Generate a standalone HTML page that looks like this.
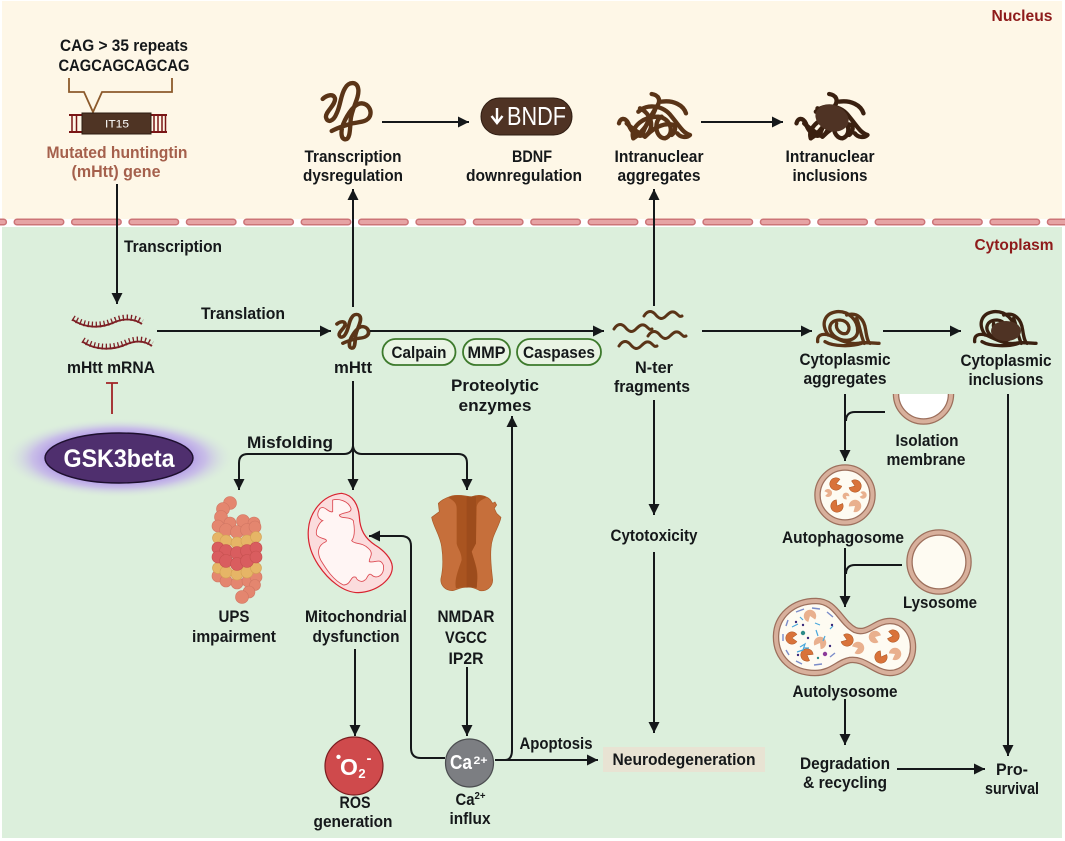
<!DOCTYPE html>
<html><head><meta charset="utf-8">
<style>
html,body{margin:0;padding:0;background:#fff;width:1065px;height:841px;overflow:hidden}
svg{display:block}
text{font-family:"Liberation Sans",sans-serif;font-weight:700;font-size:16.500px;fill:#15181a;text-anchor:middle}
.l{fill:none;stroke:#15181a;stroke-width:2}
.a{fill:none;stroke:#15181a;stroke-width:2;marker-end:url(#ah)}
.sq{fill:none;stroke:#5a3417;stroke-width:13;stroke-linecap:round;stroke-linejoin:round}
.sq2{fill:none;stroke:#3a2010;stroke-width:13;stroke-linecap:round;stroke-linejoin:round}
.w{fill:none;stroke:#5a3417;stroke-width:3;stroke-linecap:round}
.pill{fill:#e9f4e4;stroke:#3d7a2c;stroke-width:1.800}
</style></head><body>
<svg width="1065" height="841" viewBox="0 0 1065 841" xmlns="http://www.w3.org/2000/svg">
<defs>
<marker id="ah" markerUnits="userSpaceOnUse" markerWidth="12" markerHeight="11" refX="11" refY="5.500" orient="auto"><path d="M0 0L11 5.500L0 11Z" fill="#15181a"/></marker>
<radialGradient id="glow"><stop offset="0.55" stop-color="#a98be6"/><stop offset="0.75" stop-color="#c4b3ea" stop-opacity=".8"/><stop offset="1" stop-color="#dcefdc" stop-opacity="0"/></radialGradient>
<path id="sqg" d="M68 117C80 105 100 100 105 115C108 135 75 155 78 172C82 190 100 185 110 160C122 135 122 105 135 85C145 65 172 62 175 88C178 115 155 145 152 180C150 210 150 240 135 238C120 235 122 205 135 180C148 155 165 130 185 130C205 132 216 150 210 168C200 190 170 185 150 192C130 198 110 205 95 213"/>
<g id="tan">
<path d="M155 42C175 45 185 60 170 80C150 110 120 170 130 165C110 175 90 150 85 130C75 110 60 115 57 130"/>
<path d="M115 95C140 70 190 75 215 110C240 140 250 160 270 165C260 175 240 172 232 160"/>
<path d="M185 65C220 60 250 75 258 100"/>
<path d="M100 175C90 150 120 110 175 110C215 115 225 165 195 175C165 175 160 120 185 110"/>
<path d="M80 130C100 150 120 160 135 170C170 140 150 100 120 85"/>
<path d="M135 170C160 145 190 125 222 135C230 145 222 160 215 165"/>
<path d="M100 175C125 160 150 125 165 90"/>
</g>
<g id="cag">
<path d="M38 125C36 105 50 100 72 105C95 115 130 135 160 130C180 125 200 130 222 130"/>
<path d="M70 105C45 70 60 40 95 35C130 32 160 60 158 95C155 125 110 130 85 105C65 85 75 60 105 60C130 62 140 85 125 100C110 105 90 90 95 70"/>
<path d="M125 45C160 35 178 60 182 90C185 110 188 125 195 130"/>
<path d="M155 55C165 80 168 110 178 130"/>
<path d="M60 125C85 140 140 140 170 130"/>
</g>
<path id="wv" d="M0 5C3 0 7 -1 11 3C15 8 18 9 22 5C26 1 29 -1 33 3C35 5 36 6 38 5"/>
<path id="pac" d="M0 0L5 -3.600A6.200 6.200 0 1 0 5 3.600Z"/>
</defs>

<!-- backgrounds -->
<rect x="2" y="1" width="1060" height="218" fill="#fef7e7"/>
<rect x="2" y="227" width="1060" height="611" fill="#dcefdc"/>
<line x1="-40.400" y1="222" x2="1065" y2="222" stroke="#cc7477" stroke-width="7" stroke-dasharray="44 13.400" stroke-linecap="round"/>
<line x1="-40.400" y1="222" x2="1065" y2="222" stroke="#e6a3a4" stroke-width="4" stroke-dasharray="44 13.400" stroke-linecap="round"/>

<text x="1022" y="21" textLength="61" lengthAdjust="spacingAndGlyphs" style="fill:#8e1b1b;font-size:15.500px">Nucleus</text>
<text x="1014" y="250" textLength="79" lengthAdjust="spacingAndGlyphs" style="fill:#8e1b1b;font-size:15.500px">Cytoplasm</text>

<!-- gene -->
<text x="124" y="51" textLength="128" lengthAdjust="spacingAndGlyphs">CAG &gt; 35 repeats</text>
<text x="124" y="71" textLength="131" lengthAdjust="spacingAndGlyphs">CAGCAGCAGCAG</text>
<path d="M69 78V92H84L93 112L102 92H172V78" fill="none" stroke="#8c5a2c" stroke-width="1.800"/>
<g stroke="#7a1616" fill="none">
<path d="M69 115H82M69 132H82M151 115H167M151 132H167" stroke-width="2"/>
<path d="M72 115V132M76.500 115V132M154 115V132M158 115V132M162 115V132M165.500 115V132" stroke-width="1.500"/>
</g>
<rect x="82" y="113" width="69" height="21" fill="#4f3424" stroke="#2e1c12" stroke-width="1"/>
<text x="117" y="127.500" style="fill:#fff;font-weight:400;font-size:11px" textLength="24" lengthAdjust="spacingAndGlyphs">IT15</text>
<text x="117" y="158" textLength="141" lengthAdjust="spacingAndGlyphs" style="fill:#a5604c">Mutated huntingtin</text>
<text x="116" y="177" textLength="89" lengthAdjust="spacingAndGlyphs" style="fill:#a5604c">(mHtt) gene</text>
<path class="a" d="M117 184V304"/>
<text x="173" y="252" textLength="98" lengthAdjust="spacingAndGlyphs">Transcription</text>

<!-- mRNA -->
<g fill="none" stroke="#7d1f24">
<path d="M73 320C85 328 100 329 115 322C125 318 135 319 142 324" stroke-width="1.800"/>
<path d="M73 318C85 326 100 327 115 320C125 316 135 317 142 322" stroke-width="6" stroke-dasharray="1.300 2.700"/>
<path d="M83 342C95 350 112 351 127 344C137 340 145 341 152 346" stroke-width="1.800"/>
<path d="M83 340C95 348 112 349 127 342C137 338 145 339 152 344" stroke-width="6" stroke-dasharray="1.300 2.700"/>
</g>
<text x="111" y="373" textLength="88" lengthAdjust="spacingAndGlyphs">mHtt mRNA</text>
<path d="M106 383H118M112 383V414" stroke="#a12326" stroke-width="1.800" fill="none"/>
<ellipse cx="119" cy="458" rx="116" ry="40" fill="url(#glow)"/>
<ellipse cx="119" cy="458" rx="74" ry="25" fill="#4f2f6e" stroke="#1d0f2e" stroke-width="1.400"/>
<text x="119" y="467" style="fill:#fff;font-size:25px" textLength="111" lengthAdjust="spacingAndGlyphs">GSK3beta</text>

<path class="a" d="M157 331H331"/>
<text x="243" y="319" textLength="84" lengthAdjust="spacingAndGlyphs">Translation</text>

<!-- top row -->
<use href="#sqg" class="sq" transform="translate(300 60) scale(.3333)"/>
<text x="353" y="162" textLength="97" lengthAdjust="spacingAndGlyphs">Transcription</text>
<text x="353" y="181" textLength="100" lengthAdjust="spacingAndGlyphs">dysregulation</text>
<path class="a" d="M353 307V189"/>
<path class="a" d="M382 122H469"/>
<rect x="481" y="98" width="91" height="37" rx="18.500" fill="#4f3324" stroke="#2e1c12"/>
<path d="M497 108V122M491.500 116L497 123L502.500 116" fill="none" stroke="#fff" stroke-width="2.400"/>
<text x="536.500" y="125" style="fill:#fff;font-weight:400;font-size:26px" textLength="59" lengthAdjust="spacingAndGlyphs">BNDF</text>
<text x="532" y="162" textLength="40" lengthAdjust="spacingAndGlyphs">BDNF</text>
<text x="524" y="181" textLength="116" lengthAdjust="spacingAndGlyphs">downregulation</text>
<use href="#tan" class="sq" transform="translate(600 80) scale(.3333)"/>
<text x="659" y="162" textLength="89" lengthAdjust="spacingAndGlyphs">Intranuclear</text>
<text x="659" y="181" textLength="83" lengthAdjust="spacingAndGlyphs">aggregates</text>
<path class="a" d="M701 122H783"/>
<use href="#tan" class="sq2" transform="translate(777.500 80) scale(.3333)"/>
<ellipse cx="832" cy="118" rx="17" ry="13" transform="rotate(20 832 118)" fill="#4f3324"/>
<text x="830" y="162" textLength="89" lengthAdjust="spacingAndGlyphs">Intranuclear</text>
<text x="830" y="181" textLength="75" lengthAdjust="spacingAndGlyphs">inclusions</text>

<!-- mHtt row -->
<use href="#sqg" class="sq" style="stroke-width:17" transform="translate(322 300.600) scale(.22 .2)"/>
<text x="353" y="373" textLength="38" lengthAdjust="spacingAndGlyphs">mHtt</text>
<path class="a" d="M370 331H604"/>
<rect x="382.500" y="339" width="73" height="26" rx="13" class="pill"/>
<rect x="463" y="339" width="47" height="26" rx="13" class="pill"/>
<rect x="517" y="339" width="84" height="26" rx="13" class="pill"/>
<text x="419" y="358" textLength="55" lengthAdjust="spacingAndGlyphs">Calpain</text>
<text x="486.500" y="358" textLength="38" lengthAdjust="spacingAndGlyphs">MMP</text>
<text x="559" y="358" textLength="72" lengthAdjust="spacingAndGlyphs">Caspases</text>
<text x="495" y="391" textLength="88" lengthAdjust="spacingAndGlyphs">Proteolytic</text>
<text x="495" y="411" textLength="73" lengthAdjust="spacingAndGlyphs">enzymes</text>

<use href="#wv" class="w" x="644" y="311"/>
<use href="#wv" class="w" x="614" y="324"/>
<use href="#wv" class="w" x="648" y="331"/>
<use href="#wv" class="w" x="619" y="341"/>
<text x="654" y="373" textLength="38" lengthAdjust="spacingAndGlyphs">N-ter</text>
<text x="652" y="392" textLength="76" lengthAdjust="spacingAndGlyphs">fragments</text>
<path class="a" d="M654 306V189"/>
<path class="a" d="M702 331H812"/>
<use href="#cag" class="sq" style="stroke-width:10" transform="translate(805 300) scale(.3333)"/>
<text x="845" y="365" textLength="91" lengthAdjust="spacingAndGlyphs">Cytoplasmic</text>
<text x="845" y="384" textLength="83" lengthAdjust="spacingAndGlyphs">aggregates</text>
<path class="a" d="M883 331H961"/>
<use href="#cag" class="sq2" style="stroke-width:10" transform="translate(962 300) scale(.3333)"/>
<ellipse cx="1006" cy="331" rx="15" ry="10" fill="#4f3324"/>
<text x="1006" y="366" textLength="91" lengthAdjust="spacingAndGlyphs">Cytoplasmic</text>
<text x="1006" y="385" textLength="75" lengthAdjust="spacingAndGlyphs">inclusions</text>

<!-- misfolding -->
<path class="l" d="M353 381V446"/>
<text x="290" y="448" textLength="86" lengthAdjust="spacingAndGlyphs">Misfolding</text>
<path class="a" d="M353 446V490"/>
<path class="a" d="M353 446Q352 454 344 454H248Q239 454 239 463V490"/>
<path class="a" d="M353 446Q354 454 362 454H458Q467 454 467 463V490"/>

<!-- UPS -->
<g stroke="#d07663" stroke-width=".6" fill="#e4866f">
<circle cx="230" cy="503" r="6.500"/><circle cx="223" cy="509" r="6.500"/><circle cx="221" cy="517" r="6.500"/>
<circle cx="230" cy="523" r="6"/><circle cx="243" cy="521" r="6.500"/><circle cx="254" cy="523" r="6"/>
<circle cx="218" cy="526" r="6"/><circle cx="226" cy="530" r="6.500"/><circle cx="237" cy="532" r="6.500"/><circle cx="247" cy="530" r="6.500"/><circle cx="255" cy="527" r="6"/>
<circle cx="218" cy="576" r="6"/><circle cx="226" cy="581" r="6"/><circle cx="237" cy="583" r="6"/><circle cx="248" cy="581" r="6"/><circle cx="256" cy="577" r="6"/>
<circle cx="255" cy="585" r="5.500"/><circle cx="249" cy="592" r="6"/><circle cx="242" cy="597" r="6.500"/>
</g>
<g stroke="#d3a154" stroke-width=".6" fill="#e6b566">
<circle cx="218" cy="538" r="5.500"/><circle cx="226" cy="541" r="6"/><circle cx="237" cy="543" r="6"/><circle cx="247" cy="541" r="6"/><circle cx="256" cy="537" r="5.500"/>
<circle cx="218" cy="568" r="5.500"/><circle cx="226" cy="572" r="6"/><circle cx="237" cy="574" r="6"/><circle cx="247" cy="572" r="6"/><circle cx="256" cy="568" r="5.500"/>
</g>
<g stroke="#c5504f" stroke-width=".6" fill="#d95d5f">
<circle cx="218" cy="548" r="6"/><circle cx="226" cy="551" r="6.500"/><circle cx="237" cy="553" r="6.500"/><circle cx="247" cy="551" r="6.500"/><circle cx="256" cy="548" r="6"/>
<circle cx="218" cy="557" r="6"/><circle cx="226" cy="561" r="6.500"/><circle cx="237" cy="564" r="6.500"/><circle cx="247" cy="561" r="6.500"/><circle cx="256" cy="557" r="6"/>
</g>
<text x="234" y="622" textLength="31" lengthAdjust="spacingAndGlyphs">UPS</text>
<text x="234" y="642" textLength="84" lengthAdjust="spacingAndGlyphs">impairment</text>

<!-- mito -->
<g transform="translate(300 480) scale(.3333)">
<path d="M125 40C160 45 175 75 178 110C180 150 195 175 225 195C250 210 275 235 277 260C278 295 235 335 175 338C130 338 85 300 55 255C35 225 22 190 25 150C28 100 65 45 125 40Z" fill="#fbdcdd" stroke="#d8232f" stroke-width="3.600"/>
<path d="M98 60C115 55 145 62 153 85C155 100 135 95 118 105C120 118 150 108 160 122C165 150 165 170 155 182C165 195 185 185 205 205C225 222 205 235 208 245C225 250 240 232 250 255C255 285 230 300 215 285C205 275 200 300 195 300C185 310 170 300 168 292C150 285 155 315 130 315C100 300 80 270 62 240C50 215 55 195 78 185C85 175 60 178 50 165C45 150 60 125 68 122C50 115 50 100 60 85C75 75 85 100 98 95Z" fill="#fff5f4" stroke="#dc4a52" stroke-width="2.600"/>
</g>
<text x="356" y="622" textLength="102" lengthAdjust="spacingAndGlyphs">Mitochondrial</text>
<text x="356" y="642" textLength="87" lengthAdjust="spacingAndGlyphs">dysfunction</text>
<path class="a" d="M355 649V736"/>

<!-- NMDAR -->
<g transform="translate(300 480) scale(.3333)">
<path d="M455 48C480 42 500 50 515 50C530 45 550 42 570 58L578 70L585 66L590 75L583 85L590 100L603 112C598 140 575 165 573 205C570 240 575 270 578 300C578 320 560 335 540 332C525 325 515 320 500 322C485 320 475 328 458 332C435 332 420 315 423 295C430 265 430 235 425 200C420 165 400 140 395 112L418 95L415 70C430 55 445 52 455 48Z" fill="#c66f3b" stroke="#a85a28" stroke-width="2"/>
<path d="M445 52C470 42 500 50 515 50C530 45 550 44 560 52C545 60 530 65 530 85L528 190L515 215C525 250 535 270 532 300L530 325C515 322 505 320 500 322C485 320 475 325 468 325C462 300 475 270 485 240C485 215 472 205 470 190L470 85C470 65 455 60 445 52Z" fill="#a95420"/>
<path d="M500 50H528V190L515 215C525 250 535 270 530 322L500 322Z" fill="#9d4c1c"/>
</g>
<text x="466" y="622" textLength="57" lengthAdjust="spacingAndGlyphs">NMDAR</text>
<text x="466" y="643" textLength="42" lengthAdjust="spacingAndGlyphs">VGCC</text>
<text x="466" y="664" textLength="35" lengthAdjust="spacingAndGlyphs">IP2R</text>
<path class="a" d="M467 667V736"/>

<!-- Ca -->
<path class="a" d="M445 758H421Q411 758 411 748V546Q411 536 401 536H369"/>
<path class="l" d="M505 760Q512 760 512 750V420"/>
<path class="a" d="M512 430V416"/>
<circle cx="354" cy="766" r="29" fill="#cf4a4c" stroke="#7a1d20" stroke-width="1.200"/>
<text x="349" y="775" style="fill:#fff;font-size:23px">O</text>
<text x="362" y="778" style="fill:#fff;font-size:13px">2</text>
<text x="338.500" y="762" style="fill:#fff;font-size:15px">•</text>
<text x="369" y="763" style="fill:#fff;font-size:15px">-</text>
<text x="355" y="808" textLength="31" lengthAdjust="spacingAndGlyphs">ROS</text>
<text x="353" y="827" textLength="79" lengthAdjust="spacingAndGlyphs">generation</text>
<circle cx="469.500" cy="763" r="24" fill="#7c7e82" stroke="#4b4d50" stroke-width="1.200"/>
<text x="461" y="769" style="fill:#fff;font-size:20px" textLength="22" lengthAdjust="spacingAndGlyphs">Ca</text>
<text x="480.500" y="764" style="fill:#fff;font-size:11px" textLength="14" lengthAdjust="spacingAndGlyphs">2+</text>
<text x="465" y="805" textLength="19" lengthAdjust="spacingAndGlyphs">Ca</text>
<text x="480" y="799" style="font-size:10px" textLength="11" lengthAdjust="spacingAndGlyphs">2+</text>
<text x="470" y="824" textLength="41" lengthAdjust="spacingAndGlyphs">influx</text>
<path class="a" d="M495 760H598"/>
<text x="556" y="749" textLength="73" lengthAdjust="spacingAndGlyphs">Apoptosis</text>
<rect x="603" y="747" width="162" height="25" fill="#e8e3d3"/>
<text x="684" y="765" textLength="143" lengthAdjust="spacingAndGlyphs">Neurodegeneration</text>
<path class="a" d="M654 400V515"/>
<text x="654" y="541" textLength="87" lengthAdjust="spacingAndGlyphs">Cytotoxicity</text>
<path class="a" d="M654 552V733"/>

<!-- autophagy -->
<path class="a" d="M845 394V461"/>
<path class="l" d="M885 412H855Q846 412 846 421"/>
<path d="M896 394A27.500 27.500 0 0 0 951 394" fill="#fff" stroke="#9c6f5c" stroke-width="6.500"/>
<path d="M896 394A27.500 27.500 0 0 0 951 394" fill="none" stroke="#d8b09c" stroke-width="4"/>
<rect x="885" y="388" width="75" height="6" fill="#dcefdc"/>
<text x="927" y="446" textLength="63" lengthAdjust="spacingAndGlyphs">Isolation</text>
<text x="926" y="465" textLength="79" lengthAdjust="spacingAndGlyphs">membrane</text>
<circle cx="845" cy="495" r="27.500" fill="#fefbf2" stroke="#9c6f5c" stroke-width="6.500"/>
<circle cx="845" cy="495" r="27.500" fill="none" stroke="#d8b09c" stroke-width="4"/>
<g fill="#d9733a" stroke="#a8521f" stroke-width=".5">
<use href="#pac" transform="translate(836 484) rotate(-15)"/>
<use href="#pac" transform="translate(855 486) rotate(200)"/>
<use href="#pac" transform="translate(837 506) rotate(-60)"/>
</g>
<g fill="#e9b08e">
<use href="#pac" transform="translate(828 493) scale(.65) rotate(170)"/>
<use href="#pac" transform="translate(846 496) scale(.55) rotate(40)"/>
<use href="#pac" transform="translate(863 495) scale(.6) rotate(190)"/>
<use href="#pac" transform="translate(855 506) rotate(140)"/>
</g>
<text x="843" y="543" textLength="122" lengthAdjust="spacingAndGlyphs">Autophagosome</text>
<path class="a" d="M845 548V607"/>
<path class="l" d="M902 565H855Q846 565 846 574"/>
<circle cx="939" cy="562" r="29.500" fill="#fefbf2" stroke="#9c6f5c" stroke-width="6.500"/>
<circle cx="939" cy="562" r="29.500" fill="none" stroke="#d8b09c" stroke-width="4"/>
<text x="940" y="608" textLength="74" lengthAdjust="spacingAndGlyphs">Lysosome</text>

<path d="M816 601C836 601 840 622 855 630C868 635 875 621 890 621C903 621 913 632 913 647C913 662 903 673 890 673C875 673 865 658 850 660C838 662 832 673 815 673C792 673 776 658 776 637C776 616 793 601 816 601Z" fill="#fefbf2" stroke="#9c6f5c" stroke-width="6.500"/>
<path d="M816 601C836 601 840 622 855 630C868 635 875 621 890 621C903 621 913 632 913 647C913 662 903 673 890 673C875 673 865 658 850 660C838 662 832 673 815 673C792 673 776 658 776 637C776 616 793 601 816 601Z" fill="none" stroke="#d8b09c" stroke-width="4"/>
<g fill="#d9733a" stroke="#a8521f" stroke-width=".5">
<use href="#pac" transform="translate(792 638)"/>
<use href="#pac" transform="translate(807 655) rotate(30)"/>
<use href="#pac" transform="translate(847 640) rotate(200)"/>
<use href="#pac" transform="translate(893 636) rotate(190)"/>
<use href="#pac" transform="translate(881 657) rotate(-60)"/>
</g>
<g fill="#e9b08e">
<use href="#pac" transform="translate(810 616) rotate(70)"/>
<use href="#pac" transform="translate(820 643) rotate(120)"/>
<use href="#pac" transform="translate(858 648) rotate(160)"/>
<use href="#pac" transform="translate(875 637) rotate(20)"/>
<use href="#pac" transform="translate(895 654) rotate(150)"/>
</g>
<g fill="none" stroke="#4aa8dc" stroke-width="1.200">
<path d="M792 627l6 -3M800 617l3 3M815 623l5 2M830 629l3 -3M816 630l2 6M825 636l-2 5M800 647l5 -3l-2 6l-6 2M804 648l5 0"/>
</g>
<g fill="none" stroke="#7b8cc9" stroke-width="1.400">
<path d="M796 612l8 -3M812 608l8 1M827 612l6 5M788 620l-2 6M783 634v7M786 650l3 5M796 661l6 3M814 665l8 -1M830 657l5 -4"/>
</g>
<g fill="#3a2a7a"><circle cx="796" cy="622" r="1.200"/><circle cx="803" cy="625" r="1.200"/><circle cx="808" cy="638" r="1.200"/><circle cx="832" cy="625" r="1.200"/><circle cx="830" cy="646" r="1.200"/><circle cx="798" cy="655" r="1.200"/></g>
<circle cx="803" cy="633" r="2.200" fill="#2d8c88"/>
<circle cx="825" cy="654" r="2.200" fill="#8c3a99"/>
<circle cx="818" cy="658" r="1.200" fill="#2d8c88"/>
<text x="845" y="697" textLength="105" lengthAdjust="spacingAndGlyphs">Autolysosome</text>
<path class="a" d="M845 699V745"/>
<text x="845" y="769" textLength="90" lengthAdjust="spacingAndGlyphs">Degradation</text>
<text x="845" y="788" textLength="84" lengthAdjust="spacingAndGlyphs">&amp; recycling</text>
<path class="a" d="M897 769H985"/>
<text x="1012" y="775" textLength="32" lengthAdjust="spacingAndGlyphs">Pro-</text>
<text x="1012" y="794" textLength="54" lengthAdjust="spacingAndGlyphs">survival</text>
<path class="a" d="M1008 394V756"/>
</svg>
</body></html>
